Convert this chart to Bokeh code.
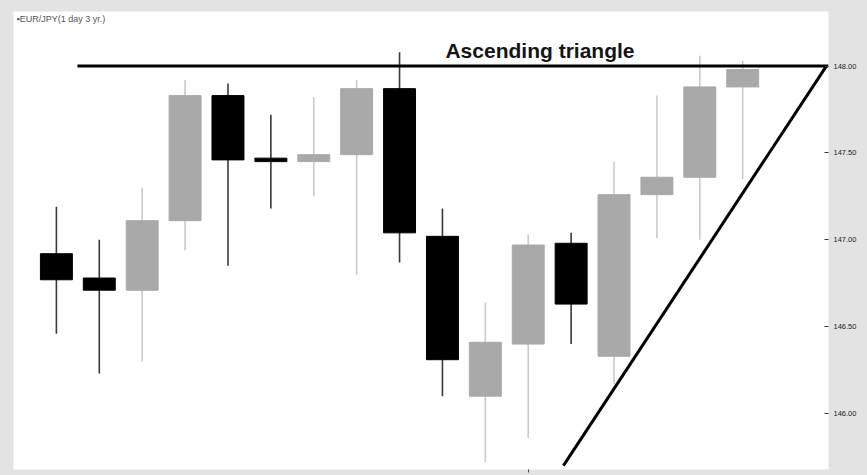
from bokeh.plotting import figure
from bokeh.models import ColumnDataSource, FixedTicker, LinearAxis, NumeralTickFormatter, Range1d
from bokeh.core.properties import value
from bokeh.embed import file_html
from bokeh.resources import INLINE

# ---- data ----
day = list(range(17))
open_ = [146.92, 146.78, 146.71, 147.11, 147.83, 147.47, 147.45, 147.49, 147.87,
         147.02, 146.10, 146.40, 146.98, 146.33, 147.26, 147.36, 147.88]
high = [147.19, 147.00, 147.30, 147.92, 147.90, 147.72, 147.82, 147.92, 148.08,
        147.18, 146.64, 147.03, 147.04, 147.45, 147.83, 148.06, 148.03]
low = [146.46, 146.23, 146.30, 146.94, 146.85, 147.18, 147.25, 146.80, 146.87,
       146.10, 145.72, 145.86, 146.40, 146.17, 147.01, 147.00, 147.35]
close = [146.77, 146.71, 147.11, 147.83, 147.46, 147.45, 147.49, 147.87, 147.04,
         146.31, 146.41, 146.97, 146.63, 147.26, 147.36, 147.88, 147.98]
y_ticks = [146.0, 146.5, 147.0, 147.5, 148.0]
x_ticks = [11]
resistance_x = [0.49, 18.0]
resistance_y = [148.0, 148.0]
support_x = [11.82, 17.95]
support_y = [145.70, 148.0]
title_text = "Ascending triangle"
series_text = "▪EUR/JPY(1 day 3 yr.)"

UP_BODY = "#a9a9a9"
UP_WICK = "#cacaca"
DOWN_BODY = "#000000"
DOWN_WICK = "#3a3a3a"

body_top = [max(o, c) for o, c in zip(open_, close)]
body_bot = [min(o, c) for o, c in zip(open_, close)]
up = [c >= o for o, c in zip(open_, close)]
src = ColumnDataSource(dict(
    x=day, top=body_top, bottom=body_bot, high=high, low=low,
    body=[UP_BODY if u else DOWN_BODY for u in up],
    wick=[UP_WICK if u else DOWN_WICK for u in up],
))

p = figure(width=867, height=475, output_backend="svg", toolbar_location=None,
           x_range=Range1d(-1.0, 18.0), y_range=Range1d(145.678, 148.314),
           min_border_left=13, min_border_top=11, min_border_bottom=6, min_border_right=39,
           background_fill_color="white", border_fill_color="#e3e3e3",
           outline_line_color=None)
p.xaxis.visible = False
p.yaxis.visible = False
p.grid.visible = False

yaxis = LinearAxis(ticker=FixedTicker(ticks=y_ticks),
                   formatter=NumeralTickFormatter(format="0.00"))
yaxis.axis_line_color = None
yaxis.major_tick_in = 4
yaxis.major_tick_out = 0
yaxis.major_tick_line_color = "#333333"
yaxis.minor_tick_line_color = None
yaxis.major_label_standoff = 5
yaxis.major_label_text_font = "Liberation Sans"
yaxis.major_label_text_font_size = "7.5px"
yaxis.major_label_text_color = "#222222"
p.add_layout(yaxis, "right")

xaxis = LinearAxis(ticker=FixedTicker(ticks=x_ticks))
xaxis.axis_line_color = None
xaxis.major_tick_in = 0
xaxis.major_tick_out = 3
xaxis.major_tick_line_color = "#444444"
xaxis.minor_tick_line_color = None
xaxis.major_label_overrides = {11: ""}
xaxis.major_label_standoff = 0
p.add_layout(xaxis, "below")

p.segment(x0="x", y0="low", x1="x", y1="high", source=src, line_color="wick", line_width=1.6)
p.vbar(x="x", top="top", bottom="bottom", width=0.745, source=src,
       fill_color="body", line_color="body")

p.line(resistance_x, resistance_y, line_color="black", line_width=3)
p.line(support_x, support_y, line_color="black", line_width=3)

p.text(x=[9.07], y=[148.088], text=[title_text], text_font=value("Liberation Sans"),
       text_font_style="bold", text_font_size="21px", text_color="#151515",
       text_baseline="alphabetic", text_align="left")
p.text(x=[-0.93], y=[148.302], text=[series_text], text_font=value("Liberation Sans"),
       text_font_size="9px", text_color="#555555",
       text_baseline="top", text_align="left")

html = file_html(p, INLINE)
html = html.replace("<head>", "<head><style>body{background:#e3e3e3;}</style>", 1)
open("out.html", "w").write(html)
